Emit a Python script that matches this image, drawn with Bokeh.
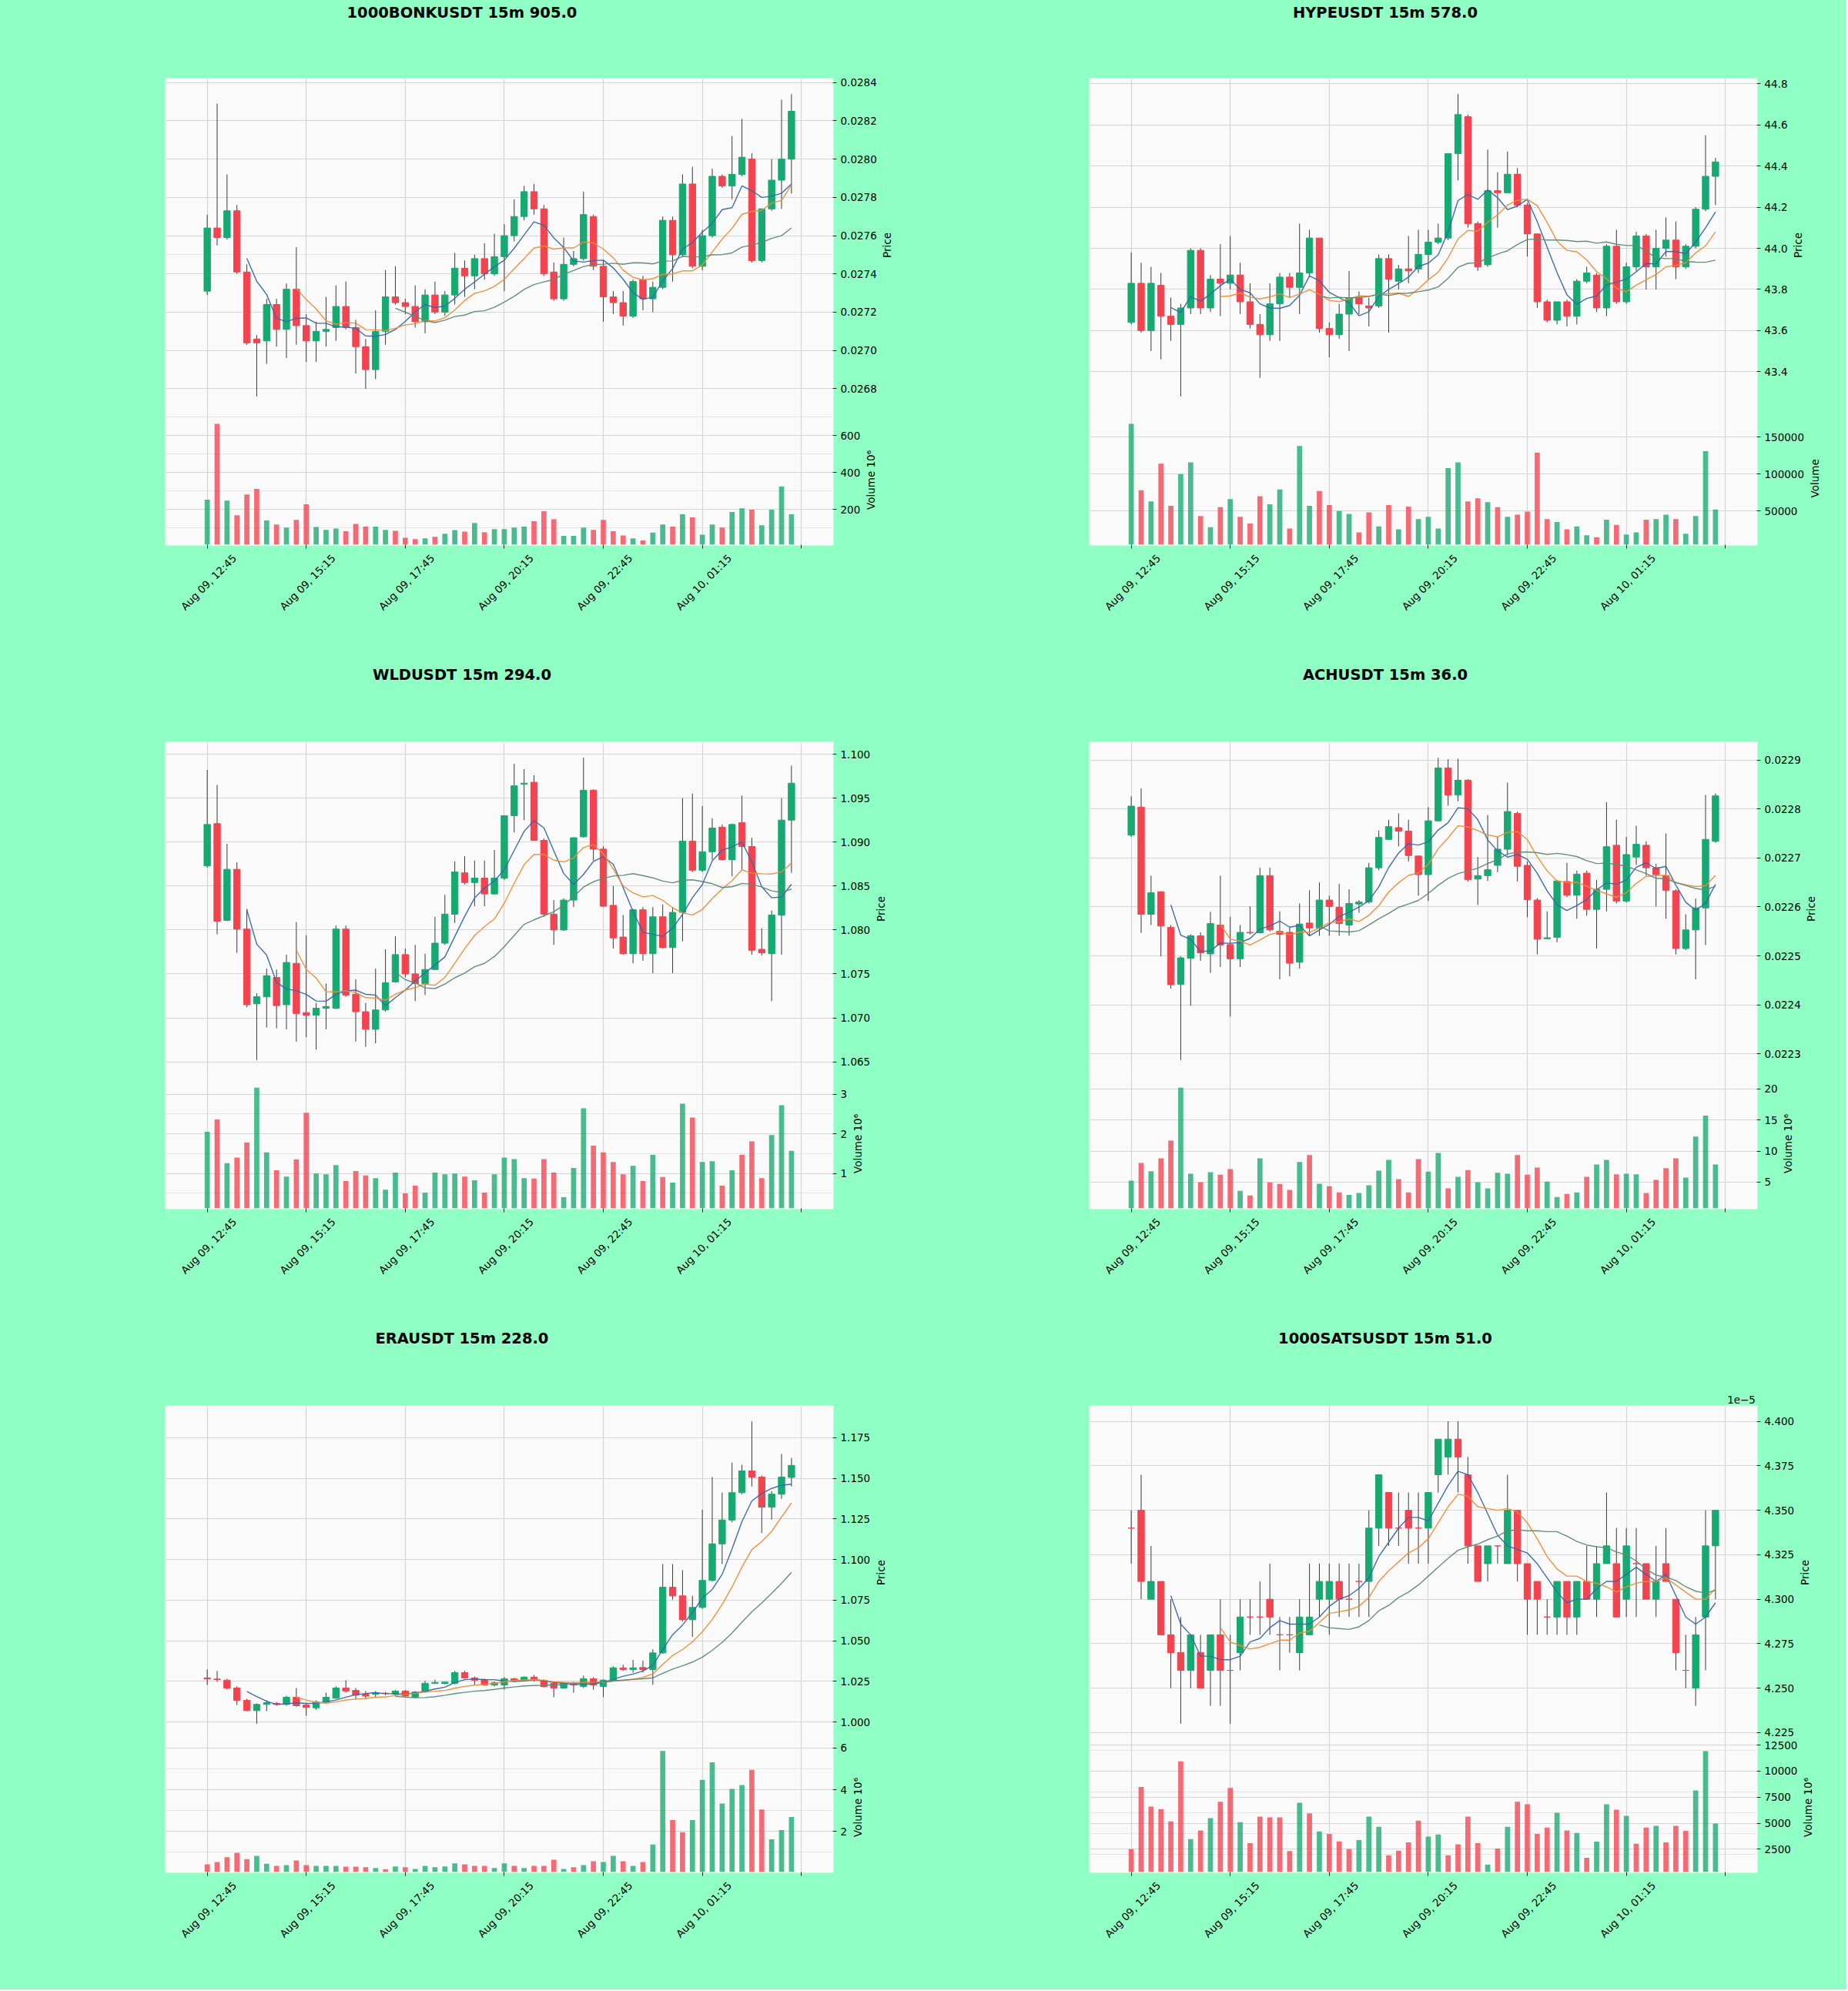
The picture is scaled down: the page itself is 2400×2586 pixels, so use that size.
import math
import numpy as np
import pandas as pd
from bokeh.plotting import figure
from bokeh.models import (Range1d, LinearAxis, FixedTicker, Grid, PrintfTickFormatter,
                          CustomJSTickFormatter, Div, ColumnDataSource)
from bokeh.layouts import column, row
from bokeh.embed import file_html
from bokeh.resources import INLINE

# ---------------------------------------------------------------- data
x_tick_positions = [0, 10, 20, 30, 40, 50, 60]
x_tick_labels = ["Aug 09, 12:45", "Aug 09, 15:15", "Aug 09, 17:45", "Aug 09, 20:15",
                 "Aug 09, 22:45", "Aug 10, 01:15", ""]
ma_windows = [5, 10, 20]

# 1000BONKUSDT (volume in 10^6)
bonk_title = "1000BONKUSDT 15m 905.0"
bonk_open = [0.02731, 0.02764, 0.02759, 0.02773, 0.02741, 0.02706, 0.02705, 0.02724, 0.02711, 0.02732,
             0.02713, 0.02705, 0.02710, 0.02712, 0.02723, 0.02712, 0.02702, 0.02690, 0.02710, 0.02728,
             0.02725, 0.02723, 0.02715, 0.02729, 0.02720, 0.02729, 0.02743, 0.02739, 0.02748, 0.02740,
             0.02749, 0.02760, 0.02770, 0.02783, 0.02774, 0.02741, 0.02727, 0.02745, 0.02748, 0.02770,
             0.02744, 0.02728, 0.02725, 0.02718, 0.02737, 0.02727, 0.02733, 0.02768, 0.02750, 0.02787,
             0.02744, 0.02760, 0.02791, 0.02786, 0.02792, 0.02800, 0.02747, 0.02774, 0.02789, 0.02800]
bonk_high = [0.02771, 0.02829, 0.02792, 0.02776, 0.02745, 0.02708, 0.02727, 0.02727, 0.02735, 0.02754,
             0.02719, 0.02715, 0.02728, 0.02734, 0.02736, 0.02716, 0.02706, 0.02721, 0.02742, 0.02744,
             0.02727, 0.02734, 0.02732, 0.02736, 0.02731, 0.02751, 0.02747, 0.02750, 0.02756, 0.02761,
             0.02766, 0.02779, 0.02786, 0.02787, 0.02776, 0.02746, 0.02759, 0.02752, 0.02783, 0.02771,
             0.02747, 0.02731, 0.02731, 0.02737, 0.02739, 0.02736, 0.02770, 0.02770, 0.02792, 0.02796,
             0.02763, 0.02795, 0.02792, 0.02812, 0.02821, 0.02803, 0.02774, 0.02800, 0.02831, 0.02834]
bonk_low = [0.02729, 0.02755, 0.02758, 0.02740, 0.02703, 0.02676, 0.02693, 0.02702, 0.02696, 0.02703,
            0.02694, 0.02694, 0.02702, 0.02705, 0.02711, 0.02688, 0.02680, 0.02685, 0.02703, 0.02724,
            0.02719, 0.02712, 0.02709, 0.02719, 0.02718, 0.02724, 0.02728, 0.02732, 0.02737, 0.02739,
            0.02731, 0.02757, 0.02768, 0.02771, 0.02739, 0.02726, 0.02726, 0.02744, 0.02747, 0.02742,
            0.02715, 0.02719, 0.02713, 0.02717, 0.02721, 0.02720, 0.02732, 0.02736, 0.02749, 0.02743,
            0.02742, 0.02759, 0.02785, 0.02779, 0.02791, 0.02746, 0.02746, 0.02773, 0.02774, 0.02782]
bonk_close = [0.02764, 0.02759, 0.02773, 0.02741, 0.02704, 0.02704, 0.02724, 0.02711, 0.02732, 0.02713,
              0.02705, 0.02710, 0.02711, 0.02723, 0.02712, 0.02702, 0.02690, 0.02710, 0.02728, 0.02725,
              0.02723, 0.02715, 0.02729, 0.02720, 0.02729, 0.02743, 0.02739, 0.02748, 0.02740, 0.02749,
              0.02760, 0.02770, 0.02783, 0.02774, 0.02740, 0.02727, 0.02745, 0.02748, 0.02771, 0.02744,
              0.02728, 0.02725, 0.02718, 0.02736, 0.02727, 0.02733, 0.02768, 0.02750, 0.02787, 0.02744,
              0.02760, 0.02791, 0.02786, 0.02792, 0.02801, 0.02747, 0.02774, 0.02789, 0.02800, 0.02825]
bonk_volume = [253, 663, 248, 169, 281, 311, 141, 119, 102, 144,
               228, 105, 90, 97, 82, 122, 107, 107, 90, 85,
               47, 40, 44, 52, 69, 89, 80, 127, 77, 94,
               94, 102, 107, 136, 191, 147, 57, 57, 102, 90,
               144, 82, 60, 44, 32, 75, 119, 107, 174, 157,
               64, 119, 102, 186, 206, 199, 115, 199, 325, 174]
bonk_price_ticks = [0.0268, 0.0270, 0.0272, 0.0274, 0.0276, 0.0278, 0.0280, 0.0282, 0.0284]
bonk_volume_ticks = [200, 400, 600]

# HYPEUSDT (volume raw)
hype_title = "HYPEUSDT 15m 578.0"
hype_open = [43.64, 43.83, 43.60, 43.82, 43.67, 43.63, 43.71, 43.99, 43.71, 43.85,
             43.83, 43.87, 43.74, 43.63, 43.58, 43.73, 43.86, 43.81, 43.88, 44.05,
             43.61, 43.58, 43.68, 43.76, 43.72, 43.72, 43.95, 43.84, 43.90, 43.90,
             43.97, 44.03, 44.05, 44.46, 44.64, 44.12, 43.92, 44.28, 44.27, 44.36,
             44.21, 44.07, 43.74, 43.65, 43.74, 43.67, 43.84, 43.87, 43.71, 44.01,
             43.74, 43.91, 44.06, 43.91, 44.00, 44.04, 43.91, 44.01, 44.19, 44.35]
hype_high = [43.98, 43.93, 43.91, 43.88, 43.76, 43.73, 44.00, 44.00, 43.87, 44.02,
             44.06, 43.93, 43.83, 43.68, 43.83, 43.88, 43.88, 44.12, 44.09, 44.05,
             43.64, 43.73, 43.89, 43.79, 43.76, 43.97, 43.97, 43.92, 44.06, 44.09,
             44.09, 44.12, 44.46, 44.75, 44.65, 44.13, 44.48, 44.37, 44.47, 44.39,
             44.22, 44.07, 43.75, 43.74, 43.75, 43.85, 43.91, 43.88, 44.02, 44.09,
             43.93, 44.08, 44.07, 44.09, 44.15, 44.13, 44.02, 44.20, 44.55, 44.44]
hype_low = [43.63, 43.59, 43.50, 43.46, 43.55, 43.28, 43.68, 43.68, 43.69, 43.67,
            43.80, 43.68, 43.61, 43.37, 43.55, 43.55, 43.76, 43.68, 43.86, 43.59,
            43.47, 43.56, 43.50, 43.68, 43.62, 43.71, 43.59, 43.80, 43.83, 43.88,
            43.85, 44.02, 44.04, 44.33, 44.10, 43.89, 43.91, 44.10, 44.27, 44.20,
            43.96, 43.71, 43.64, 43.63, 43.62, 43.63, 43.83, 43.69, 43.67, 43.73,
            43.73, 43.89, 43.80, 43.80, 43.96, 43.85, 43.90, 44.00, 44.18, 44.21]
hype_close = [43.83, 43.60, 43.83, 43.67, 43.63, 43.71, 43.99, 43.71, 43.85, 43.83,
              43.87, 43.74, 43.63, 43.58, 43.73, 43.86, 43.81, 43.88, 44.05, 43.61,
              43.58, 43.68, 43.76, 43.73, 43.71, 43.95, 43.85, 43.90, 43.89, 43.97,
              44.03, 44.05, 44.46, 44.65, 44.12, 43.91, 44.28, 44.27, 44.36, 44.21,
              44.07, 43.74, 43.65, 43.74, 43.67, 43.84, 43.88, 43.71, 44.01, 43.74,
              43.91, 44.06, 43.91, 44.00, 44.04, 43.91, 44.01, 44.19, 44.35, 44.42]
hype_volume = [168000, 78000, 63000, 114000, 57000, 100000, 116000, 43000, 28000, 55000,
               66000, 42000, 33000, 70000, 59000, 79000, 26000, 138000, 57000, 77000,
               58000, 50000, 46000, 21000, 48000, 29000, 58000, 25000, 56000, 39000,
               42000, 26000, 108000, 116000, 63000, 67000, 62000, 55000, 42000, 45000,
               49000, 129000, 39000, 35000, 25000, 29000, 17000, 14000, 38000, 31000,
               18000, 21000, 38000, 39000, 45000, 39000, 19000, 43000, 131000, 52000]
hype_price_ticks = [43.4, 43.6, 43.8, 44.0, 44.2, 44.4, 44.6, 44.8]
hype_volume_ticks = [50000, 100000, 150000]

# WLDUSDT (volume in 10^6)
wld_title = "WLDUSDT 15m 294.0"
wld_open = [1.0873, 1.0921, 1.0811, 1.0869, 1.0801, 1.0716, 1.0724, 1.0746, 1.0715, 1.0762,
            1.0706, 1.0703, 1.0711, 1.0711, 1.0801, 1.0727, 1.0707, 1.0687, 1.0709, 1.0741,
            1.0772, 1.0750, 1.0739, 1.0755, 1.0785, 1.0818, 1.0865, 1.0854, 1.0859, 1.0841,
            1.0859, 1.0930, 1.0966, 1.0968, 1.0902, 1.0818, 1.0800, 1.0834, 1.0906, 1.0959,
            1.0892, 1.0828, 1.0792, 1.0773, 1.0823, 1.0773, 1.0815, 1.0780, 1.0820, 1.0901,
            1.0868, 1.0889, 1.0917, 1.0880, 1.0922, 1.0895, 1.0778, 1.0773, 1.0817, 1.0925]
wld_high = [1.0982, 1.0965, 1.0898, 1.0877, 1.0824, 1.0728, 1.0756, 1.0755, 1.0772, 1.0809,
            1.0794, 1.0717, 1.0739, 1.0805, 1.0805, 1.0744, 1.0717, 1.0756, 1.0778, 1.0793,
            1.0779, 1.0783, 1.0773, 1.0815, 1.0840, 1.0878, 1.0884, 1.0879, 1.0879, 1.0891,
            1.0930, 1.0989, 1.0983, 1.0976, 1.0904, 1.0834, 1.0836, 1.0905, 1.0996, 1.0960,
            1.0895, 1.0850, 1.0817, 1.0824, 1.0826, 1.0826, 1.0829, 1.0826, 1.0950, 1.0955,
            1.0941, 1.0927, 1.0920, 1.0921, 1.0953, 1.0905, 1.0802, 1.0822, 1.0950, 1.0987]
wld_low = [1.0871, 1.0795, 1.0810, 1.0774, 1.0712, 1.0652, 1.0689, 1.0688, 1.0687, 1.0673,
           1.0678, 1.0664, 1.0687, 1.0710, 1.0724, 1.0673, 1.0667, 1.0671, 1.0707, 1.0740,
           1.0746, 1.0719, 1.0726, 1.0755, 1.0783, 1.0808, 1.0852, 1.0827, 1.0827, 1.0840,
           1.0857, 1.0911, 1.0925, 1.0902, 1.0815, 1.0783, 1.0799, 1.0826, 1.0905, 1.0879,
           1.0826, 1.0779, 1.0772, 1.0762, 1.0765, 1.0751, 1.0779, 1.0751, 1.0787, 1.0866,
           1.0866, 1.0880, 1.0879, 1.0861, 1.0868, 1.0772, 1.0771, 1.0719, 1.0772, 1.0865]
wld_close = [1.0920, 1.0810, 1.0869, 1.0801, 1.0715, 1.0724, 1.0748, 1.0714, 1.0763, 1.0705,
             1.0703, 1.0711, 1.0713, 1.0801, 1.0726, 1.0707, 1.0687, 1.0709, 1.0740, 1.0772,
             1.0750, 1.0739, 1.0755, 1.0785, 1.0818, 1.0866, 1.0854, 1.0859, 1.0841, 1.0859,
             1.0930, 1.0964, 1.0967, 1.0902, 1.0818, 1.0800, 1.0834, 1.0905, 1.0959, 1.0892,
             1.0827, 1.0791, 1.0773, 1.0823, 1.0773, 1.0815, 1.0780, 1.0820, 1.0901, 1.0868,
             1.0889, 1.0916, 1.0880, 1.0920, 1.0895, 1.0777, 1.0774, 1.0817, 1.0925, 1.0967]
wld_volume = [2.05, 2.36, 1.26, 1.40, 1.78, 3.16, 1.53, 1.08, 0.92, 1.35,
              2.53, 1.00, 0.98, 1.21, 0.81, 1.06, 0.95, 0.88, 0.59, 1.02,
              0.50, 0.69, 0.52, 1.02, 0.98, 1.00, 0.92, 0.83, 0.52, 0.98,
              1.40, 1.36, 0.88, 0.87, 1.36, 1.02, 0.40, 1.14, 2.64, 1.70,
              1.53, 1.29, 0.98, 1.19, 0.81, 1.47, 0.91, 0.77, 2.76, 2.41,
              1.29, 1.31, 0.69, 1.08, 1.47, 1.81, 0.88, 1.97, 2.72, 1.57]
wld_price_ticks = [1.065, 1.070, 1.075, 1.080, 1.085, 1.090, 1.095, 1.100]
wld_volume_ticks = [1, 2, 3]

# ACHUSDT (volume in 10^6)
ach_title = "ACHUSDT 15m 36.0"
ach_open = [0.022747, 0.022804, 0.022585, 0.022631, 0.022558, 0.022442, 0.022495, 0.022541, 0.022504, 0.022563,
            0.022523, 0.022494, 0.022548, 0.022547, 0.022664, 0.022550, 0.022548, 0.022487, 0.022567, 0.022557,
            0.022614, 0.022599, 0.022563, 0.022606, 0.022610, 0.022680, 0.022738, 0.022762, 0.022755, 0.022704,
            0.022666, 0.022776, 0.022884, 0.022829, 0.022859, 0.022657, 0.022664, 0.022685, 0.022718, 0.022791,
            0.022685, 0.022614, 0.022535, 0.022538, 0.022652, 0.022624, 0.022669, 0.022595, 0.022636, 0.022726,
            0.022612, 0.022702, 0.022726, 0.022680, 0.022664, 0.022633, 0.022515, 0.022553, 0.022598, 0.022734]
ach_high = [0.022826, 0.022842, 0.022664, 0.022632, 0.022563, 0.022499, 0.022544, 0.022548, 0.022590, 0.022664,
            0.022580, 0.022563, 0.022601, 0.022680, 0.022680, 0.022591, 0.022558, 0.022607, 0.022634, 0.022650,
            0.022623, 0.022647, 0.022636, 0.022614, 0.022690, 0.022756, 0.022778, 0.022791, 0.022778, 0.022705,
            0.022804, 0.022905, 0.022902, 0.022903, 0.022861, 0.022702, 0.022788, 0.022743, 0.022854, 0.022795,
            0.022693, 0.022618, 0.022591, 0.022655, 0.022690, 0.022674, 0.022674, 0.022655, 0.022814, 0.022778,
            0.022743, 0.022766, 0.022734, 0.022688, 0.022750, 0.022636, 0.022585, 0.022617, 0.022829, 0.022832]
ach_low = [0.022743, 0.022547, 0.022563, 0.022499, 0.022433, 0.022287, 0.022398, 0.022490, 0.022465, 0.022477,
           0.022376, 0.022477, 0.022544, 0.022546, 0.022550, 0.022452, 0.022458, 0.022474, 0.022541, 0.022541,
           0.022541, 0.022541, 0.022541, 0.022588, 0.022607, 0.022675, 0.022737, 0.022724, 0.022693, 0.022623,
           0.022612, 0.022775, 0.022807, 0.022816, 0.022652, 0.022604, 0.022653, 0.022671, 0.022705, 0.022652,
           0.022579, 0.022503, 0.022534, 0.022528, 0.022620, 0.022576, 0.022582, 0.022515, 0.022591, 0.022607,
           0.022609, 0.022686, 0.022664, 0.022601, 0.022576, 0.022503, 0.022512, 0.022452, 0.022522, 0.022731]
ach_close = [0.022806, 0.022585, 0.022629, 0.022561, 0.022441, 0.022496, 0.022541, 0.022506, 0.022566, 0.022522,
             0.022494, 0.022548, 0.022547, 0.022664, 0.022553, 0.022544, 0.022485, 0.022565, 0.022557, 0.022614,
             0.022601, 0.022566, 0.022607, 0.022610, 0.022680, 0.022742, 0.022764, 0.022755, 0.022705, 0.022666,
             0.022776, 0.022884, 0.022829, 0.022859, 0.022656, 0.022664, 0.022676, 0.022718, 0.022795, 0.022683,
             0.022615, 0.022534, 0.022537, 0.022653, 0.022624, 0.022667, 0.022595, 0.022636, 0.022723, 0.022612,
             0.022707, 0.022728, 0.022680, 0.022666, 0.022634, 0.022515, 0.022553, 0.022598, 0.022738, 0.022827]
ach_volume = [5.25, 8.1, 6.75, 8.85, 11.7, 20.2, 6.35, 5.0, 6.6, 6.2,
              7.1, 3.6, 2.85, 8.85, 4.95, 4.7, 3.75, 8.25, 9.35, 4.75,
              4.35, 3.35, 2.95, 3.25, 4.5, 6.85, 8.6, 5.5, 3.35, 8.7,
              6.7, 9.7, 4.0, 5.85, 6.95, 5.0, 4.0, 6.5, 6.35, 9.35,
              6.2, 7.35, 5.1, 2.6, 3.1, 3.35, 5.85, 7.85, 8.6, 6.25,
              6.35, 6.25, 3.25, 5.35, 7.25, 8.85, 5.75, 12.35, 15.7, 7.85]
ach_price_ticks = [0.0223, 0.0224, 0.0225, 0.0226, 0.0227, 0.0228, 0.0229]
ach_volume_ticks = [5, 10, 15, 20]

# ERAUSDT (volume in 10^6)
era_title = "ERAUSDT 15m 228.0"
era_open = [1.0272, 1.0265, 1.0258, 1.0210, 1.0134, 1.0071, 1.0109, 1.0115, 1.0109, 1.0153,
            1.0105, 1.0088, 1.0124, 1.0147, 1.0210, 1.0195, 1.0172, 1.0172, 1.0178, 1.0172,
            1.0191, 1.0153, 1.0185, 1.0239, 1.0238, 1.0239, 1.0305, 1.0272, 1.0261, 1.0229,
            1.0229, 1.0267, 1.0258, 1.0277, 1.0256, 1.0239, 1.0210, 1.0239, 1.0220, 1.0267,
            1.0220, 1.0258, 1.0334, 1.0324, 1.0336, 1.0324, 1.0426, 1.0830, 1.0777, 1.0630,
            1.0706, 1.0872, 1.1097, 1.1244, 1.1412, 1.1546, 1.1508, 1.1323, 1.1403, 1.1506]
era_high = [1.0324, 1.0315, 1.0267, 1.0220, 1.0143, 1.0115, 1.0134, 1.0124, 1.0162, 1.0210,
            1.0115, 1.0134, 1.0181, 1.0220, 1.0258, 1.0210, 1.0191, 1.0191, 1.0186, 1.0197,
            1.0197, 1.0191, 1.0254, 1.0261, 1.0250, 1.0315, 1.0315, 1.0280, 1.0267, 1.0250,
            1.0277, 1.0273, 1.0282, 1.0290, 1.0263, 1.0244, 1.0244, 1.0248, 1.0286, 1.0277,
            1.0263, 1.0343, 1.0353, 1.0382, 1.0378, 1.0448, 1.0973, 1.0973, 1.0935, 1.0777,
            1.1307, 1.1508, 1.1412, 1.1597, 1.1584, 1.1851, 1.1517, 1.1422, 1.1651, 1.1626]
era_low = [1.0229, 1.0248, 1.0200, 1.0105, 1.0067, 0.9990, 1.0067, 1.0101, 1.0101, 1.0095,
           1.0038, 1.0076, 1.0118, 1.0143, 1.0181, 1.0139, 1.0143, 1.0153, 1.0166, 1.0162,
           1.0153, 1.0147, 1.0181, 1.0237, 1.0233, 1.0233, 1.0267, 1.0229, 1.0225, 1.0220,
           1.0200, 1.0248, 1.0254, 1.0250, 1.0214, 1.0153, 1.0205, 1.0181, 1.0210, 1.0200,
           1.0153, 1.0254, 1.0315, 1.0305, 1.0305, 1.0229, 1.0420, 1.0754, 1.0620, 1.0525,
           1.0697, 1.0865, 1.0973, 1.1231, 1.1403, 1.1450, 1.1164, 1.1246, 1.1374, 1.1450]
era_close = [1.0266, 1.0261, 1.0210, 1.0134, 1.0071, 1.0109, 1.0120, 1.0109, 1.0153, 1.0101,
             1.0090, 1.0124, 1.0153, 1.0210, 1.0191, 1.0166, 1.0160, 1.0181, 1.0176, 1.0191,
             1.0160, 1.0185, 1.0239, 1.0244, 1.0246, 1.0305, 1.0272, 1.0258, 1.0229, 1.0242,
             1.0267, 1.0254, 1.0277, 1.0256, 1.0219, 1.0210, 1.0239, 1.0229, 1.0267, 1.0229,
             1.0258, 1.0334, 1.0324, 1.0334, 1.0324, 1.0426, 1.0830, 1.0777, 1.0630, 1.0706,
             1.0872, 1.1097, 1.1244, 1.1412, 1.1546, 1.1508, 1.1323, 1.1403, 1.1508, 1.1580]
era_volume = [0.42, 0.53, 0.76, 0.98, 0.67, 0.83, 0.45, 0.35, 0.39, 0.61,
              0.39, 0.35, 0.35, 0.35, 0.31, 0.31, 0.28, 0.25, 0.18, 0.32,
              0.28, 0.20, 0.35, 0.28, 0.32, 0.47, 0.42, 0.35, 0.35, 0.25,
              0.47, 0.35, 0.25, 0.35, 0.35, 0.64, 0.20, 0.28, 0.39, 0.57,
              0.53, 0.83, 0.57, 0.35, 0.53, 1.37, 5.85, 2.54, 1.96, 2.54,
              4.47, 5.31, 3.34, 4.04, 4.22, 4.95, 3.05, 1.62, 2.06, 2.69]
era_price_ticks = [1.000, 1.025, 1.050, 1.075, 1.100, 1.125, 1.150, 1.175]
era_volume_ticks = [2, 4, 6]

# 1000SATSUSDT (price in 1e-5, volume in 10^6)
sats_title = "1000SATSUSDT 15m 51.0"
sats_open = [4.34, 4.35, 4.30, 4.31, 4.28, 4.27, 4.26, 4.27, 4.26, 4.28,
             4.26, 4.27, 4.29, 4.29, 4.30, 4.28, 4.28, 4.27, 4.28, 4.30,
             4.30, 4.31, 4.30, 4.31, 4.31, 4.34, 4.36, 4.34, 4.35, 4.34,
             4.34, 4.37, 4.38, 4.39, 4.37, 4.33, 4.32, 4.33, 4.32, 4.35,
             4.32, 4.31, 4.29, 4.29, 4.31, 4.29, 4.31, 4.30, 4.32, 4.32,
             4.30, 4.32, 4.32, 4.30, 4.32, 4.30, 4.26, 4.25, 4.29, 4.33]
sats_high = [4.35, 4.37, 4.33, 4.31, 4.30, 4.29, 4.28, 4.28, 4.28, 4.30,
             4.28, 4.30, 4.30, 4.31, 4.32, 4.29, 4.29, 4.30, 4.32, 4.32,
             4.32, 4.32, 4.32, 4.32, 4.35, 4.37, 4.36, 4.36, 4.36, 4.36,
             4.36, 4.39, 4.40, 4.40, 4.38, 4.33, 4.33, 4.33, 4.37, 4.35,
             4.32, 4.31, 4.30, 4.31, 4.31, 4.31, 4.33, 4.33, 4.36, 4.34,
             4.34, 4.34, 4.32, 4.33, 4.34, 4.30, 4.28, 4.29, 4.35, 4.35]
sats_low = [4.32, 4.30, 4.30, 4.28, 4.25, 4.23, 4.25, 4.25, 4.24, 4.24,
            4.23, 4.26, 4.28, 4.28, 4.28, 4.26, 4.27, 4.26, 4.28, 4.29,
            4.28, 4.29, 4.29, 4.29, 4.29, 4.33, 4.33, 4.33, 4.32, 4.32,
            4.32, 4.36, 4.37, 4.36, 4.32, 4.31, 4.31, 4.32, 4.32, 4.31,
            4.28, 4.28, 4.28, 4.28, 4.28, 4.28, 4.30, 4.29, 4.32, 4.29,
            4.29, 4.29, 4.30, 4.29, 4.31, 4.26, 4.25, 4.24, 4.26, 4.30]
sats_close = [4.34, 4.31, 4.31, 4.28, 4.27, 4.26, 4.28, 4.25, 4.28, 4.26,
              4.26, 4.29, 4.29, 4.29, 4.29, 4.28, 4.28, 4.29, 4.29, 4.31,
              4.31, 4.30, 4.30, 4.31, 4.34, 4.37, 4.34, 4.34, 4.34, 4.34,
              4.36, 4.39, 4.39, 4.38, 4.33, 4.31, 4.33, 4.33, 4.35, 4.32,
              4.30, 4.30, 4.29, 4.31, 4.29, 4.31, 4.30, 4.32, 4.33, 4.29,
              4.33, 4.32, 4.30, 4.31, 4.31, 4.27, 4.26, 4.28, 4.33, 4.35]
sats_volume = [2500, 8480, 6600, 6360, 5160, 10930, 3460, 4300, 5490, 7050,
               8390, 5100, 3080, 5640, 5550, 5550, 2330, 6960, 5940, 4210,
               3970, 3250, 2510, 3370, 5640, 4660, 1910, 2360, 3160, 5250,
               3700, 3910, 1910, 2960, 5640, 3080, 1020, 2570, 4660, 7050,
               6810, 3970, 4570, 6000, 4300, 4060, 1670, 3220, 6810, 6300,
               5700, 3020, 4570, 4750, 3160, 4750, 4270, 8150, 11910, 4960]
sats_price_ticks = [4.225, 4.250, 4.275, 4.300, 4.325, 4.350, 4.375, 4.400]
sats_volume_ticks = [2500, 5000, 7500, 10000, 12500]

# ---------------------------------------------------------------- style
MINT = "#8fffc4"
PLOT_BG = "#fafafa"
GRID = "#d6d6d6"
UP = "#16a971"
DOWN = "#f2434f"
WICK = "#3a3a3a"
MA_COLORS = ["#3466ad", "#f08c35", "#5d8a77"]
FONT = "DejaVu Sans"
FS = "13.5px"
COL_WIDTHS = [1200, 1198]
FRAME_LEFT = [215, 215]
FRAME_W = 866
PRICE_H = 432
VOL_H = 173
X_LO, X_HI = -4.17, 63.17
LABEL_SHIFT = 2.75
# (title height, title line-height, price top border, volume bottom border) per row
ROW_GEOM = [(34, 34, 68, 161), (24, 18, 72, 161), (24, 18, 72, 153)]
# approximate rendered lengths (px) of the vertical axis labels
LABEL_LEN = {"Price": 33, "Volume": 51, "Volume  10\u2076": 82}

panels = [
    dict(title=bonk_title, o=bonk_open, h=bonk_high, l=bonk_low, c=bonk_close, v=bonk_volume,
         pt=bonk_price_ticks, vt=bonk_volume_ticks, pf="%.4f", vlabel="Volume  10\u2076", offset_text=None),
    dict(title=hype_title, o=hype_open, h=hype_high, l=hype_low, c=hype_close, v=hype_volume,
         pt=hype_price_ticks, vt=hype_volume_ticks, pf="%.1f", vlabel="Volume", offset_text=None),
    dict(title=wld_title, o=wld_open, h=wld_high, l=wld_low, c=wld_close, v=wld_volume,
         pt=wld_price_ticks, vt=wld_volume_ticks, pf="%.3f", vlabel="Volume  10\u2076", offset_text=None),
    dict(title=ach_title, o=ach_open, h=ach_high, l=ach_low, c=ach_close, v=ach_volume,
         pt=ach_price_ticks, vt=ach_volume_ticks, pf="%.4f", vlabel="Volume  10\u2076", offset_text=None),
    dict(title=era_title, o=era_open, h=era_high, l=era_low, c=era_close, v=era_volume,
         pt=era_price_ticks, vt=era_volume_ticks, pf="%.3f", vlabel="Volume  10\u2076", offset_text=None),
    dict(title=sats_title, o=sats_open, h=sats_high, l=sats_low, c=sats_close, v=sats_volume,
         pt=sats_price_ticks, vt=sats_volume_ticks, pf="%.3f", vlabel="Volume  10\u2076", offset_text="1e\u22125"),
]


def style_yaxis(ax):
    ax.axis_line_color = None
    ax.major_tick_in = 0
    ax.major_tick_out = 5
    ax.major_tick_line_color = "#222222"
    ax.minor_tick_line_color = None
    ax.major_label_standoff = 5
    ax.major_label_text_font = FONT
    ax.major_label_text_font_size = FS
    ax.major_label_text_color = "black"


def text_axis(tick, text, orientation, standoff):
    ax = LinearAxis(ticker=FixedTicker(ticks=[tick]),
                    formatter=CustomJSTickFormatter(args=dict(t=text), code="return t;"))
    ax.axis_line_color = None
    ax.major_tick_line_color = None
    ax.minor_tick_line_color = None
    ax.major_tick_in = 0
    ax.major_tick_out = 0
    ax.major_label_orientation = orientation
    ax.major_label_standoff = standoff
    ax.major_label_text_font = FONT
    ax.major_label_text_font_size = FS
    ax.major_label_text_color = "black"
    return ax


def add_grids(fig, yticks):
    fig.add_layout(Grid(dimension=0, ticker=FixedTicker(ticks=x_tick_positions),
                        grid_line_color=GRID, grid_line_width=1.2))
    fig.add_layout(Grid(dimension=1, ticker=FixedTicker(ticks=yticks),
                        grid_line_color=GRID, grid_line_width=1.2))


def base_fig(width, height, xr, yr, left_b, right_b, top_b, bot_b):
    f = figure(width=width, height=height, x_range=xr, y_range=yr,
               x_axis_location=None, y_axis_location=None, toolbar_location=None,
               output_backend="svg", min_border_left=left_b, min_border_right=right_b,
               min_border_top=top_b, min_border_bottom=bot_b)
    f.background_fill_color = PLOT_BG
    f.border_fill_color = MINT
    f.outline_line_color = PLOT_BG
    f.outline_line_width = 2
    return f


def build_panel(d, col_idx, row_idx):
    o = np.array(d["o"], float)
    h = np.array(d["h"], float)
    l = np.array(d["l"], float)
    c = np.array(d["c"], float)
    v = np.array(d["v"], float)
    n = len(c)
    xs = np.arange(n)
    body_col = np.where(c > o, UP, DOWN)
    vup = np.empty(n, dtype=bool)
    vup[0] = c[0] > o[0]
    vup[1:] = c[1:] > c[:-1]
    vol_col = np.where(vup, UP, DOWN)

    col_w = COL_WIDTHS[col_idx]
    left_b = FRAME_LEFT[col_idx]
    right_b = col_w - left_b - FRAME_W
    title_h, title_lh, top_b, bot_b = ROW_GEOM[row_idx]

    title = Div(text=d["title"], width=col_w, height=title_h, margin=0,
                styles={"background-color": MINT, "text-align": "center", "font-family": FONT,
                        "font-weight": "bold", "font-size": "19.5px", "line-height": f"{title_lh}px",
                        "color": "black", "white-space": "nowrap"})

    xr = Range1d(X_LO, X_HI)
    prng = h.max() - l.min()
    yr = Range1d(l.min() - 0.05 * prng, h.max() + 0.05 * prng)
    p = base_fig(col_w, top_b + PRICE_H, xr, yr, left_b, right_b, top_b, 0)
    add_grids(p, d["pt"])

    src = ColumnDataSource(dict(x=xs, l=l, h=h, top=np.maximum(o, c), bottom=np.minimum(o, c), color=body_col))
    p.segment(x0="x", y0="l", x1="x", y1="h", source=src, line_color=WICK, line_width=1)
    p.vbar(x="x", width=0.65, top="top", bottom="bottom", source=src,
           fill_color="color", line_color="color", line_width=1)
    for w, colr in zip(ma_windows, MA_COLORS):
        ma = pd.Series(c).rolling(w).mean().to_numpy()
        ok = ~np.isnan(ma)
        p.line(xs[ok], ma[ok], line_color=colr, line_width=1.4, line_alpha=0.95)

    yax = LinearAxis(ticker=FixedTicker(ticks=d["pt"]), formatter=PrintfTickFormatter(format=d["pf"]))
    style_yaxis(yax)
    p.add_layout(yax, "right")
    pspan = yr.end - yr.start
    p_anchor = (yr.start + yr.end) / 2 - 0.5 * LABEL_LEN["Price"] * pspan / PRICE_H
    p.add_layout(text_axis(p_anchor, "Price", math.pi / 2, 10), "right")
    if d["offset_text"]:
        p.add_layout(text_axis(X_HI - 1.55, d["offset_text"], "horizontal", 4), "above")

    vr = Range1d(0.3 * v.min(), 1.1 * v.max())
    q = base_fig(col_w, VOL_H + bot_b, xr, vr, left_b, right_b, 0, bot_b)
    add_grids(q, d["vt"])
    q.vbar(x=xs, width=0.52, top=v, bottom=0, fill_color=list(vol_col), line_color=None, fill_alpha=0.78)

    vax = LinearAxis(ticker=FixedTicker(ticks=d["vt"]), formatter=PrintfTickFormatter(format="%d"))
    style_yaxis(vax)
    q.add_layout(vax, "right")
    vspan = vr.end - vr.start
    v_anchor = (vr.start + vr.end) / 2 - 0.5 * LABEL_LEN[d["vlabel"]] * vspan / VOL_H
    q.add_layout(text_axis(v_anchor, d["vlabel"], math.pi / 2, 10), "right")

    tick_ax = LinearAxis(ticker=FixedTicker(ticks=x_tick_positions),
                         formatter=CustomJSTickFormatter(code="return '';"))
    tick_ax.axis_line_color = None
    tick_ax.major_tick_in = 0
    tick_ax.major_tick_out = 5
    tick_ax.major_tick_line_color = "#222222"
    tick_ax.minor_tick_line_color = None
    tick_ax.major_label_text_font_size = "0px"
    tick_ax.major_label_standoff = 0
    q.add_layout(tick_ax, "below")

    lab_ax = LinearAxis(ticker=FixedTicker(ticks=[t + LABEL_SHIFT for t in x_tick_positions[:-1]]),
                        formatter=CustomJSTickFormatter(
                            args=dict(labels=x_tick_labels, shift=LABEL_SHIFT),
                            code="const i = Math.round((tick - shift) / 10); "
                                 "return (i >= 0 && i < labels.length) ? labels[i] : '';"))
    lab_ax.axis_line_color = None
    lab_ax.major_tick_line_color = None
    lab_ax.minor_tick_line_color = None
    lab_ax.major_label_orientation = math.pi / 4
    lab_ax.major_label_standoff = 4
    lab_ax.major_label_text_font = FONT
    lab_ax.major_label_text_font_size = FS
    lab_ax.major_label_text_color = "black"
    q.add_layout(lab_ax, "below")

    return [title, p, q]


cols = [[], []]
for idx, d in enumerate(panels):
    r, ci = divmod(idx, 2)
    cols[ci] += build_panel(d, ci, r)

layout = row(column(*cols[0], spacing=0, styles={"background-color": MINT}),
             column(*cols[1], spacing=0, styles={"background-color": MINT}),
             spacing=0, styles={"background-color": MINT})

open("out.html", "w").write(file_html(layout, INLINE))
